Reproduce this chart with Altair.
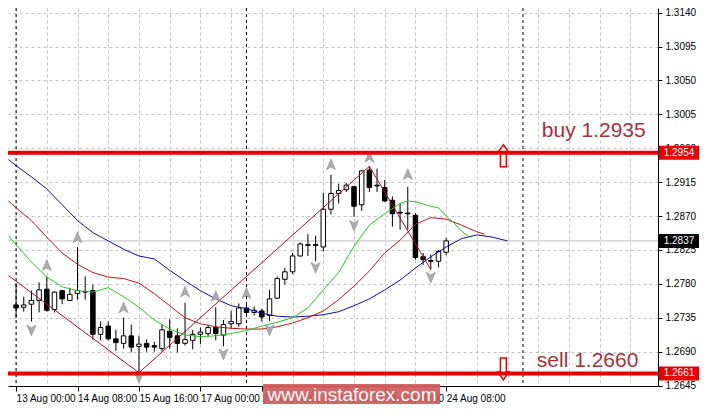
import json
import altair as alt
import pandas as pd

# ---------------- data (H4 candles, bar index 0 = 13 Aug 00:00) ----------------
bar_index = list(range(57))
opens = [1.2752, 1.2749, 1.2753, 1.2758, 1.2773, 1.2746, 1.2771, 1.2758, 1.2767, 1.2770,
         1.2771, 1.2713, 1.2724, 1.2707, 1.2701, 1.2711, 1.2697, 1.2701, 1.2698, 1.2694,
         1.2717, 1.2711, 1.2701, 1.2705, 1.2713, 1.2714, 1.2722, 1.2712, 1.2727, 1.2727,
         1.2748, 1.2742, 1.2744, 1.2738, 1.2761, 1.2786, 1.2796, 1.2817, 1.2832, 1.2832,
         1.2829, 1.2879, 1.2900, 1.2905, 1.2909, 1.2885, 1.2931, 1.2911, 1.2908, 1.2891,
         1.2875, 1.2874, 1.2871, 1.2816, 1.2811, 1.2810, 1.2822]
highs = [1.2781, 1.2763, 1.2771, 1.2782, 1.2790, 1.2770, 1.2772, 1.2775, 1.2829, 1.2790,
         1.2779, 1.2730, 1.2730, 1.2719, 1.2735, 1.2726, 1.2711, 1.2706, 1.2703, 1.2726,
         1.2733, 1.2721, 1.2755, 1.2719, 1.2722, 1.2726, 1.2749, 1.2732, 1.2744, 1.2754,
         1.2752, 1.2750, 1.2747, 1.2772, 1.2790, 1.2801, 1.2821, 1.2835, 1.2846, 1.2844,
         1.2901, 1.2925, 1.2913, 1.2914, 1.2910, 1.2931, 1.2936, 1.2933, 1.2918, 1.2896,
         1.2887, 1.2909, 1.2874, 1.2821, 1.2819, 1.2825, 1.2841]
lows = [1.2735, 1.2743, 1.2730, 1.2742, 1.2743, 1.2742, 1.2753, 1.2757, 1.2759, 1.2759,
        1.2706, 1.2705, 1.2705, 1.2691, 1.2694, 1.2689, 1.2662, 1.2690, 1.2690, 1.2690,
        1.2694, 1.2689, 1.2698, 1.2693, 1.2700, 1.2710, 1.2705, 1.2697, 1.2721, 1.2723,
        1.2739, 1.2738, 1.2730, 1.2731, 1.2760, 1.2779, 1.2793, 1.2816, 1.2817, 1.2810,
        1.2823, 1.2872, 1.2887, 1.2902, 1.2869, 1.2877, 1.2902, 1.2902, 1.2889, 1.2856,
        1.2852, 1.2852, 1.2812, 1.2805, 1.2799, 1.2802, 1.2818]
closes = [1.2748, 1.2752, 1.2758, 1.2772, 1.2745, 1.2769, 1.2760, 1.2766, 1.2771, 1.2769,
          1.2713, 1.2722, 1.2707, 1.2702, 1.2711, 1.2696, 1.2700, 1.2696, 1.2696, 1.2719,
          1.2709, 1.2701, 1.2706, 1.2713, 1.2716, 1.2722, 1.2714, 1.2726, 1.2730, 1.2748,
          1.2742, 1.2745, 1.2736, 1.2760, 1.2787, 1.2796, 1.2817, 1.2833, 1.2831, 1.2831,
          1.2879, 1.2900, 1.2904, 1.2911, 1.2883, 1.2930, 1.2908, 1.2910, 1.2890, 1.2873,
          1.2874, 1.2873, 1.2815, 1.2812, 1.2810, 1.2823, 1.2837]

# Alligator lines (jaw = blue, teeth = red, lips = green), shifted into the future
jaw_bars = [-1, 0, 2, 4, 6, 8, 10, 12, 14, 16, 18, 20, 22, 24, 26, 28, 30, 32, 34, 36,
            38, 40, 42, 44, 46, 48, 50, 52, 54, 56, 58, 60, 62, 64]
jaw_vals = [1.2945, 1.2937, 1.2922, 1.2906, 1.2885, 1.2864, 1.2848, 1.2837, 1.2826, 1.2817,
            1.2813, 1.2798, 1.2784, 1.2771, 1.2760, 1.2751, 1.2747, 1.2741, 1.2737, 1.2736,
            1.2737, 1.2739, 1.2743, 1.2751, 1.2760, 1.2772, 1.2785, 1.2801, 1.2816, 1.2829,
            1.2840, 1.2845, 1.2842, 1.2837]
teeth_bars = [-1, 0, 2, 4, 6, 8, 10, 12, 14, 16, 18, 20, 22, 24, 26, 28, 30, 32, 34, 36,
              38, 40, 42, 44, 46, 48, 50, 52, 54, 56, 58, 60, 61]
teeth_vals = [1.2890, 1.2881, 1.2864, 1.2842, 1.2821, 1.2806, 1.2795, 1.2789, 1.2787, 1.2781,
              1.2767, 1.2751, 1.2735, 1.2727, 1.2723, 1.2721, 1.2720, 1.2720, 1.2723, 1.2728,
              1.2735, 1.2744, 1.2759, 1.2777, 1.2797, 1.2821, 1.2838, 1.2859, 1.2868, 1.2866,
              1.2858, 1.2849, 1.2846]
lips_bars = [-1, 0, 2, 4, 6, 8, 10, 12, 14, 16, 18, 20, 22, 24, 26, 28, 30, 32, 34, 36,
             38, 40, 42, 44, 46, 48, 50, 51, 52, 54, 55, 56, 57, 58, 59]
lips_vals = [1.2844, 1.2832, 1.2809, 1.2789, 1.2776, 1.2771, 1.2769, 1.2775, 1.2763, 1.2749,
             1.2732, 1.2720, 1.2712, 1.2710, 1.2711, 1.2714, 1.2718, 1.2724, 1.2729, 1.2735,
             1.2748, 1.2772, 1.2795, 1.2830, 1.2858, 1.2873, 1.2887, 1.2890, 1.2889, 1.2883,
             1.2881, 1.2870, 1.2861, 1.2850, 1.2842]

# ZigZag
zigzag_bars = [-1, 16, 46, 54]
zigzag_vals = [1.2791, 1.2662, 1.2936, 1.2799]

# Fractals
fractal_up_bars = [4, 8, 14, 22, 26, 30, 41, 46, 51]
fractal_up_vals = [1.2804, 1.2841, 1.2748, 1.2769, 1.2763, 1.2767, 1.2938, 1.2948, 1.2925]
fractal_dn_bars = [2, 16, 27, 33, 39, 44, 54]
fractal_dn_vals = [1.2719, 1.2656, 1.2687, 1.2719, 1.2802, 1.2858, 1.2789]

# axes
x_label_bars = [0, 8, 16, 24, 32, 40, 48, 56]
x_label_text = ["13 Aug 00:00", "14 Aug 08:00", "15 Aug 16:00", "17 Aug 00:00",
                "20 Aug 08:00", "21 Aug 16:00", "23 Aug 00:00", "24 Aug 08:00"]
x_grid_bars = list(range(0, 84, 4))
y_tick_vals = [1.2645, 1.2690, 1.2735, 1.2780, 1.2825, 1.2870, 1.2915, 1.2960,
               1.3005, 1.3050, 1.3095, 1.3140]

# levels and annotations
buy_level = 1.2954
sell_level = 1.2661
bid_price = 1.2837
separator_bars = [0, 30, 66]
annot_text = ["buy 1.2935", "sell 1.2660"]
annot_bar = [68.45, 67.8]
annot_price = [1.2975, 1.2670]
signal_arrow_bar = 63.45
buy_arrow_price = 1.2950
sell_arrow_price = 1.2667
price_tags = ["1.2954", "1.2661", "1.2837"]
price_tag_vals = [buy_level, sell_level, bid_price]
price_tag_colors = ["#e80000", "#e80000", "#000000"]

# ---------------- layout ----------------
W, H = 650, 378
FONT = "Liberation Sans"
xs = alt.Scale(domain=[-0.4, 82.93], nice=False, zero=False)
ys = alt.Scale(domain=[1.26444, 1.31462], nice=False, zero=False)

LB = json.dumps(x_label_bars)
LT = json.dumps(x_label_text)
x_axis = alt.Axis(
    values=x_grid_bars, grid=True, gridColor="#c4c4c4", gridDash=[3, 3], gridWidth=1,
    labelExpr=f"indexof({LB}, datum.value) >= 0 ? {LT}[indexof({LB}, datum.value)] : ''",
    labelAlign="left", labelPadding=2, labelFontSize=10, labelFont=FONT, labelColor="black",
    labelOverlap=False, labelFlush=False, domainColor="black", domainWidth=1,
    tickSize=5, tickColor={"condition": {"test": f"indexof({LB}, datum.value) >= 0", "value": "black"},
                           "value": "transparent"},
    title=None)
y_axis = alt.Axis(
    orient="right", values=y_tick_vals, format=".4f", grid=True, gridColor="#c4c4c4",
    gridDash=[3, 3], gridWidth=1, tickSize=4, tickColor="black", domainColor="black",
    domainWidth=1, labelFontSize=10, labelFont=FONT, labelColor="black", labelPadding=3,
    labelOverlap=False, labelFlush=False, title=None)


def X(f):
    return alt.X(f, type="quantitative", scale=xs, axis=x_axis)


def Y(f):
    return alt.Y(f, type="quantitative", scale=ys, axis=y_axis)


candles = pd.DataFrame({"i": bar_index, "open": opens, "high": highs, "low": lows, "close": closes})

def series(bars, vals):
    return pd.DataFrame({"i": bars, "p": vals})

up_path = "M0,-1 L0.75,0.8 L0,0.35 L-0.75,0.8 Z"
dn_path = "M0,1 L0.75,-0.8 L0,-0.35 L-0.75,-0.8 Z"
big_up = "M0,-1 L0.5,-0.3 L0.27,-0.3 L0.27,1 L-0.27,1 L-0.27,-0.3 L-0.5,-0.3 Z"
big_dn = "M-0.27,-1 L0.27,-1 L0.27,0.25 L0.5,0.25 L0,1 L-0.5,0.25 L-0.27,0.25 Z"
box_path = "M-1,-0.35 L1,-0.35 L1,0.35 L-1,0.35 Z"

separators = alt.Chart(pd.DataFrame({"i": separator_bars})).mark_rule(
    color="black", strokeDash=[3, 3], strokeWidth=1).encode(x=X("i"))
bid_line = alt.Chart(pd.DataFrame({"p": [bid_price]})).mark_rule(
    color="#bdbdbd", strokeWidth=1).encode(y=Y("p"))

wicks = alt.Chart(candles).mark_rule(color="black", strokeWidth=1).encode(
    x=X("i"), y=Y("low"), y2="high")
bodies = alt.Chart(candles).mark_bar(size=4.5, stroke="black", strokeWidth=1).encode(
    x=X("i"), y=Y("open"), y2="close",
    fill=alt.condition("datum.close >= datum.open", alt.value("white"), alt.value("black")))

jaw = alt.Chart(series(jaw_bars, jaw_vals)).mark_line(
    color="#10109c", strokeWidth=1, clip=True).encode(x=X("i"), y=Y("p"))
teeth = alt.Chart(series(teeth_bars, teeth_vals)).mark_line(
    color="#c01818", strokeWidth=1, clip=True).encode(x=X("i"), y=Y("p"))
lips = alt.Chart(series(lips_bars, lips_vals)).mark_line(
    color="#2ac42a", strokeWidth=1, clip=True).encode(x=X("i"), y=Y("p"))
zigzag = alt.Chart(series(zigzag_bars, zigzag_vals)).mark_line(
    color="#a8102a", strokeWidth=1, clip=True).encode(x=X("i"), y=Y("p"))

fr_up = alt.Chart(series(fractal_up_bars, fractal_up_vals)).mark_point(
    shape=up_path, filled=True, fill="#acacac", stroke="#8c8c8c", strokeWidth=0.6,
    size=144, opacity=1).encode(x=X("i"), y=Y("p"))
fr_dn = alt.Chart(series(fractal_dn_bars, fractal_dn_vals)).mark_point(
    shape=dn_path, filled=True, fill="#acacac", stroke="#8c8c8c", strokeWidth=0.6,
    size=144, opacity=1).encode(x=X("i"), y=Y("p"))

arrow_up = alt.Chart(series([signal_arrow_bar], [buy_arrow_price])).mark_point(
    shape=big_up, filled=True, fill="white", stroke="#e80000", strokeWidth=1.5,
    size=484, opacity=1).encode(x=X("i"), y=Y("p"))
arrow_dn = alt.Chart(series([signal_arrow_bar], [sell_arrow_price])).mark_point(
    shape=big_dn, filled=True, fill="white", stroke="#e80000", strokeWidth=1.5,
    size=484, opacity=1).encode(x=X("i"), y=Y("p"))

levels = alt.Chart(pd.DataFrame({"p": [buy_level, sell_level]})).mark_rule(
    color="#e80000", strokeWidth=4).encode(y=Y("p"))

annots = alt.Chart(pd.DataFrame({"i": annot_bar, "p": annot_price, "t": annot_text})).mark_text(
    align="left", baseline="alphabetic", fontSize=21, font=FONT, color="#a8323a").encode(
    x=X("i"), y=Y("p"), text="t:N")

tags_df = pd.DataFrame({"p": price_tag_vals, "t": price_tags, "c": price_tag_colors})
tag_boxes = alt.Chart(tags_df).mark_point(
    shape=box_path, filled=True, size=1600, opacity=1, strokeWidth=0).encode(
    x=alt.value(W + 21), y=Y("p"), fill=alt.Color("c:N", scale=None))
tag_text = alt.Chart(tags_df).mark_text(
    color="white", fontSize=10, font=FONT, align="center", baseline="middle").encode(
    x=alt.value(W + 21), y=Y("p"), text="t:N")

wm_df = pd.DataFrame({"t": ["www.instaforex.com"]})
wm_rect = alt.Chart(wm_df).mark_rect(color="#d05a5a", opacity=0.92).encode(
    x=alt.value(255), x2=alt.value(432), y=alt.value(376), y2=alt.value(396))
wm_text = alt.Chart(wm_df).mark_text(
    color="white", fontSize=19, font=FONT, align="center", baseline="middle").encode(
    x=alt.value(344), y=alt.value(387), text="t:N")

chart = alt.layer(
    separators, bid_line, wicks, bodies, jaw, teeth, lips, zigzag, fr_up, fr_dn,
    arrow_up, arrow_dn, levels, annots, tag_boxes, tag_text, wm_rect, wm_text
).properties(
    width=W, height=H,
    autosize=alt.AutoSizeParams(type="none"),
    padding={"left": 0, "top": 0, "right": 41, "bottom": 19},
    background="white"
).configure_view(strokeWidth=0)

chart.save("out.html", embed_options={"renderer": "svg", "actions": False})
